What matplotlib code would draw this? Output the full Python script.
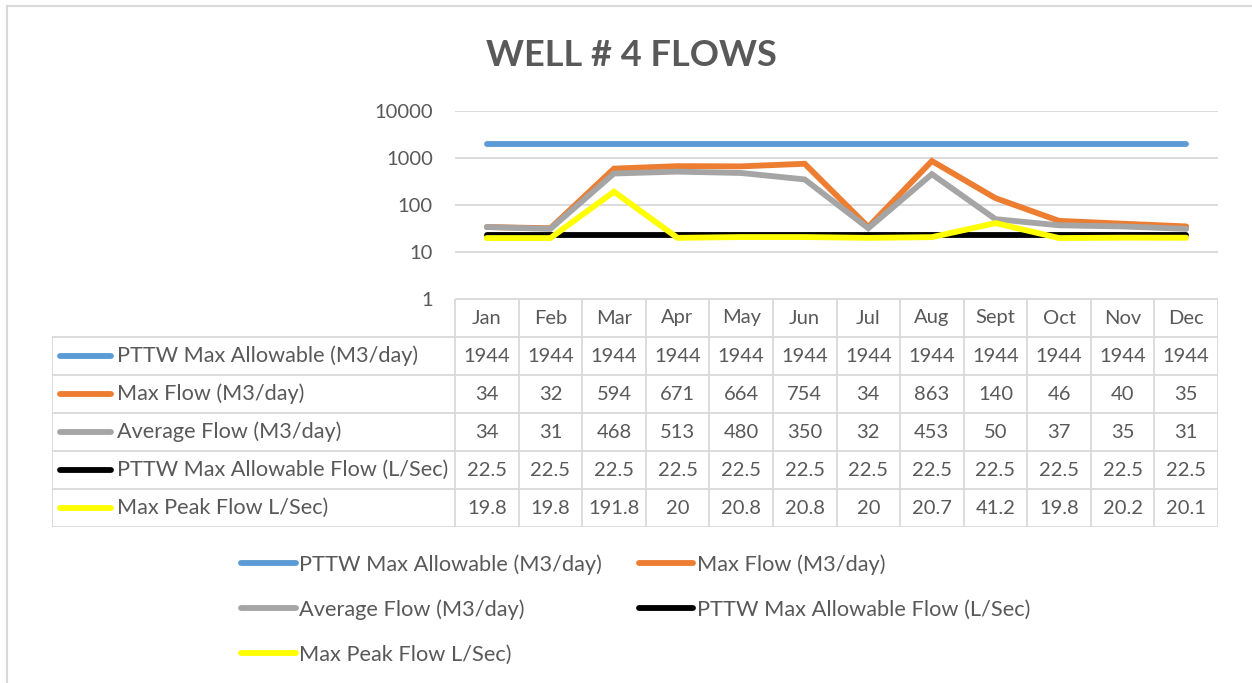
import numpy as np
import matplotlib
matplotlib.use('Agg')
from matplotlib import pyplot as plt
from matplotlib.lines import Line2D

# ---- data ----
months = ['Jan', 'Feb', 'Mar', 'Apr', 'May', 'Jun',
          'Jul', 'Aug', 'Sept', 'Oct', 'Nov', 'Dec']
series_names = ['PTTW Max Allowable (M3/day)', 'Max Flow (M3/day)',
                'Average Flow (M3/day)', 'PTTW Max Allowable Flow (L/Sec)',
                'Max Peak Flow L/Sec)']
pttw_m3 = [1944, 1944, 1944, 1944, 1944, 1944, 1944, 1944, 1944, 1944, 1944, 1944]
max_flow = [34, 32, 594, 671, 664, 754, 34, 863, 140, 46, 40, 35]
avg_flow = [34, 31, 468, 513, 480, 350, 32, 453, 50, 37, 35, 31]
pttw_ls = [22.5, 22.5, 22.5, 22.5, 22.5, 22.5, 22.5, 22.5, 22.5, 22.5, 22.5, 22.5]
peak_ls = [19.8, 19.8, 191.8, 20, 20.8, 20.8, 20, 20.7, 41.2, 19.8, 20.2, 20.1]
y_ticks = [1, 10, 100, 1000, 10000]

series = [pttw_m3, max_flow, avg_flow, pttw_ls, peak_ls]
colors = ['#5B9BD5', '#ED7D31', '#A5A5A5', '#000000', '#FFFF00']

# ---- style ----
TXT = '#595959'
GRID = '#D9D9D9'
plt.rcParams['font.family'] = ['Lato', 'DejaVu Sans']

W, H = 1252, 683
fig = plt.figure(figsize=(W / 100, H / 100), dpi=100)


def fbox(x0, y0, x1, y1):
    # pixel box (top-left origin) -> figure fraction rect
    return [x0 / W, 1 - y1 / H, (x1 - x0) / W, (y1 - y0) / H]


# outer chart border (top + left visible)
fig.add_artist(Line2D([7 / W, 1], [1 - 6 / H, 1 - 6 / H], color=GRID, lw=1.5))
fig.add_artist(Line2D([7 / W, 7 / W], [0, 1 - 6 / H], color=GRID, lw=1.5))

fig.text(631 / W, 1 - 55 / H, 'WELL # 4 FLOWS', ha='center', va='center',
         fontsize=26, fontweight='bold', color=TXT)

# ---- plot area ----
PL, PR, PT, PB = 455, 1218, 111, 299
ax = fig.add_axes(fbox(PL, PT, PR, PB))
x = np.arange(len(months))
lines = []
for vals, c, name in zip(series, colors, series_names):
    ln, = ax.plot(x, vals, color=c, lw=4.2, solid_capstyle='round',
                  solid_joinstyle='miter', label=name)
    lines.append(ln)
ax.set_yscale('log')
ax.set_ylim(1, 10000)
ax.set_xlim(-0.5, len(months) - 0.5)
ax.set_yticks(y_ticks)
ax.set_yticklabels([str(t) for t in y_ticks])
ax.yaxis.set_minor_locator(matplotlib.ticker.NullLocator())
ax.set_xticks([])
ax.tick_params(axis='y', length=0, pad=16, labelsize=14.5, labelcolor=TXT)
ax.grid(axis='y', color=GRID, lw=1.3)
ax.set_axisbelow(True)
for s in ax.spines.values():
    s.set_visible(False)

# ---- data table ----
TL, TB = 52, 527
unit = (PR - PL) / len(months)
tax = fig.add_axes(fbox(TL, PB, PR, TB))
left = -0.5 - (PL - TL) / unit
tax.set_xlim(left, len(months) - 0.5)
tax.set_ylim(len(series) + 1, 0)
tax.axis('off')


def px2x(px):
    return -0.5 + (px - PL) / unit


kw = dict(color=GRID, lw=1.3, solid_capstyle='butt')
tax.plot([-0.5, len(months) - 0.5], [0, 0], **kw)
for r in range(1, len(series) + 2):
    tax.plot([left, len(months) - 0.5], [r, r], **kw)
for k in range(len(months) + 1):
    tax.plot([k - 0.5, k - 0.5], [0, len(series) + 1], **kw)
tax.plot([left, left], [1, len(series) + 1], **kw)

for i, m in enumerate(months):
    tax.text(i, 0.5, m, ha='center', va='center', fontsize=14.5, color=TXT)
for r, (vals, c, name) in enumerate(zip(series, colors, series_names)):
    yc = r + 1.5
    tax.plot([px2x(60), px2x(111)], [yc, yc], color=c, lw=4.2,
             solid_capstyle='round')
    tax.text(px2x(117), yc, name, ha='left', va='center', fontsize=15.6,
             color=TXT)
    for i, v in enumerate(vals):
        tax.text(i, yc, f'{v:g}', ha='center', va='center', fontsize=14.5,
                 color=TXT)

# ---- legend (column-major order to mimic row layout) ----
order = [0, 2, 4, 1, 3]
leg = fig.legend([lines[i] for i in order], [series_names[i] for i in order],
                 ncol=2, loc='upper left',
                 bbox_to_anchor=(241 / W, 1 - 554 / H),
                 frameon=False, fontsize=15.7, handlelength=2.5,
                 handletextpad=0.14, labelspacing=1.14, columnspacing=1.72,
                 borderpad=0, borderaxespad=0)
for t in leg.get_texts():
    t.set_color(TXT)

fig.savefig('out.png', dpi=100)
